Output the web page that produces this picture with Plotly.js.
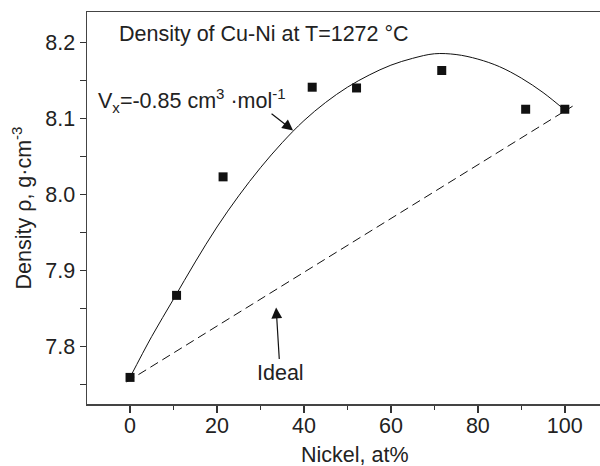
<!DOCTYPE html>
<html>
<head>
<meta charset="utf-8">
<script src="https://cdn.plot.ly/plotly-3.0.1.min.js"></script>
<style>html,body{margin:0;padding:0;background:#fff;}#chart{width:600px;height:466px;}</style>
</head>
<body>
<div id="chart"></div>
<script>
// Measured density points (Nickel at%, density g/cm3)
const nickelPts = [0, 10.7, 21.4, 41.9, 52.1, 71.7, 91.0, 100];
const densityPts = [7.759, 7.867, 8.023, 8.141, 8.140, 8.163, 8.112, 8.112];

// Model curve (Vx = -0.85 cm3/mol)
const curveX = [0, 5, 10, 15, 20, 25, 30, 35, 40, 45, 50, 55, 60, 65, 70, 75, 80, 85, 90, 95, 100];
const curveY = [7.759, 7.813, 7.862, 7.911, 7.957, 7.998, 8.035, 8.068, 8.097, 8.121, 8.141, 8.157,
                8.170, 8.179, 8.185, 8.184, 8.178, 8.168, 8.153, 8.134, 8.111];

// Ideal (linear) line
const idealX = [-0.8, 101.8];
const idealY = [7.753, 8.116];

const xTickVals = [0, 20, 40, 60, 80, 100];
const yTickVals = [7.8, 7.9, 8.0, 8.1, 8.2];
const yTickText = ['7.8', '7.9', '8.0', '8.1', '8.2'];

const FONT = 'Liberation Sans, Arial, Helvetica, sans-serif';
const TXT = '#222';
const FS = 21.5;

const traces = [
  {x: idealX, y: idealY, mode: 'lines', line: {color: '#111', width: 1, dash: '9px,5px'}, hoverinfo: 'skip', showlegend: false},
  {x: curveX, y: curveY, mode: 'lines', line: {color: '#111', width: 1, shape: 'spline', smoothing: 1}, hoverinfo: 'skip', showlegend: false},
  {x: nickelPts, y: densityPts, mode: 'markers', marker: {symbol: 'square', size: 9, color: '#111'}, showlegend: false}
];

const layout = {
  width: 600, height: 466,
  margin: {l: 87, r: 0, t: 12, b: 62},
  paper_bgcolor: '#fff', plot_bgcolor: '#fff',
  font: {family: FONT, size: FS, color: TXT},
  showlegend: false,
  xaxis: {
    range: [-9.9, 108.1],
    tickvals: xTickVals,
    ticks: 'outside', ticklen: 7, tickwidth: 1.5, tickcolor: '#333',
    ticklabelstandoff: -5,
    minor: {dtick: 10, tick0: 0, ticks: 'outside', ticklen: 4, tickwidth: 1.5, tickcolor: '#333', showgrid: false},
    showline: true, linecolor: '#444', linewidth: 1.5, mirror: true,
    showgrid: false, zeroline: false,
    tickfont: {family: FONT, size: FS, color: TXT}
  },
  yaxis: {
    range: [7.724, 8.24],
    tickvals: yTickVals, ticktext: yTickText,
    ticks: 'outside', ticklen: 6, tickwidth: 1.5, tickcolor: '#333',
    minor: {dtick: 0.05, tick0: 7.75, ticks: 'outside', ticklen: 6, tickwidth: 1.5, tickcolor: '#333', showgrid: false},
    showline: true, linecolor: '#444', linewidth: 1.5, mirror: false,
    showgrid: false, zeroline: false,
    tickfont: {family: FONT, size: FS, color: TXT},
    title: {text: 'Density ρ, g·cm<sup>-3</sup>', font: {family: FONT, size: FS, color: TXT}, standoff: 8}
  },
  annotations: [
    {xref: 'paper', yref: 'paper', x: 0.058, y: 0.9439, xanchor: 'left', yanchor: 'middle',
     text: 'Density of Cu-Ni at T=1272 °C', showarrow: false, font: {family: FONT, size: FS, color: TXT}},
    {xref: 'paper', yref: 'paper', x: 0.017, y: 0.7755, xanchor: 'left', yanchor: 'middle',
     text: 'V<sub>x</sub>=-0.85 cm<sup>3</sup> ·mol<sup>-1</sup>', showarrow: false, font: {family: FONT, size: FS, color: TXT}},
    {xref: 'x', yref: 'y', x: 37.5, y: 8.084, ax: -23, ay: -18, text: '', showarrow: true,
     arrowhead: 2, arrowsize: 1.8, arrowwidth: 1.2, arrowcolor: '#111', standoff: 0},
    {xref: 'x', yref: 'y', x: 33.6, y: 7.851, ax: 4, ay: 65, axref: 'pixel', ayref: 'pixel',
     text: 'Ideal', showarrow: true, arrowhead: 2, arrowsize: 1.8, arrowwidth: 1.2, arrowcolor: '#111', standoff: 0,
     font: {family: FONT, size: FS, color: TXT}},
    {xref: 'paper', yref: 'paper', x: 0.5224, y: -0.1301, xanchor: 'center', yanchor: 'middle',
     text: 'Nickel, at%', showarrow: false, font: {family: FONT, size: FS, color: TXT}}
  ]
};

Plotly.newPlot('chart', traces, layout, {displayModeBar: false, staticPlot: true});
</script>
</body>
</html>
